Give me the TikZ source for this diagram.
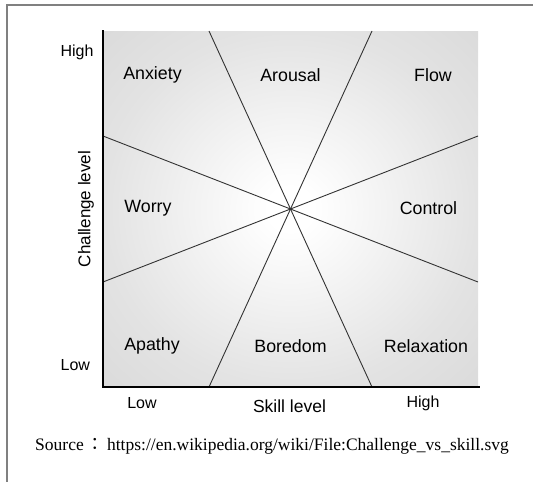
\documentclass[tikz,border=0pt]{standalone}
\usepackage{fontspec}
\setmainfont{Liberation Serif}
\setsansfont{Liberation Sans}
\newfontfamily\cjk{Noto Sans CJK KR}

% white centre fading to grey corners
\pgfdeclareradialshading{flowglow}{\pgfpoint{0bp}{0bp}}{color(0bp)=(white); color(3bp)=(white); color(25bp)=(black!11); color(54bp)=(black!20); color(72bp)=(black!26)}

\tikzset{
  region/.style={font=\sffamily\fontsize{17.8}{20}\selectfont},
  tick/.style={font=\sffamily\fontsize{16}{19}\selectfont},
  divider/.style={draw=black!80, line width=0.9pt},
  axis/.style={draw=black, line width=2pt}
}

\begin{document}
\begin{tikzpicture}[x=1pt, y=-1pt]

\useasboundingbox (0,0) rectangle (533,482);

% Frame (top and left only)
\draw[black!50, line width=1.3pt] (7,482) -- (7,5) -- (533,5);

% Shaded field
\shade[shading=flowglow] (103,31) rectangle (478,387);

% Dividing lines through the centre
\coordinate (mid) at (290.5,209);

\coordinate (t_1) at (209,31);
\coordinate (t_2) at (372,31);
\coordinate (b_1) at (209,387);
\coordinate (b_2) at (372,387);
\coordinate (l_1) at (103,136);
\coordinate (l_2) at (103,282);
\coordinate (r_1) at (478,136);
\coordinate (r_2) at (478,282);

\draw[divider] (t_1) -- (mid) -- (b_2);
\draw[divider] (t_2) -- (mid) -- (b_1);
\draw[divider] (l_1) -- (mid) -- (r_2);
\draw[divider] (l_2) -- (mid) -- (r_1);

% Graph axes
\coordinate (o) at (103,387);
\draw[axis] (103,30) -- (o) -- (480,387);

% Axis labels
\node[tick, anchor=east] (hiC) at (97,52) {High};
\node[tick, anchor=east] (loC) at (93.5,365) {Low};
\node[tick, rotate=90, font=\sffamily\fontsize{17}{20}\selectfont] (chal) at (86,209) {Challenge level};

\node[tick] (loS) at (142,403) {Low};
\node[tick, font=\sffamily\fontsize{17.5}{20}\selectfont] (skill) at (289.5,406) {Skill level};
\node[tick] (hiS) at (423,403) {High};

% Regions
\node[region] (anxiety) at (152.5,75) {Anxiety};
\node[region] (arousal) at (290.5,75) {Arousal};
\node[region] (flow) at (433,75) {Flow};

\node[region] (worry) at (148,208) {Worry};
\node[region] (control) at (428.5,208) {Control};

\node[region] (apathy) at (152,346) {Apathy};
\node[region] (boredom) at (290.5,346) {Boredom};
\node[region] (relax) at (426,346) {Relaxation};

% Source line
\node[font=\rmfamily\fontsize{17.5}{20}\selectfont] (src) at (272,446)
  {Source\,{\cjk ：}\,https://en.wikipedia.org/wiki/File:Challenge\_vs\_skill.svg};

\end{tikzpicture}
\end{document}
